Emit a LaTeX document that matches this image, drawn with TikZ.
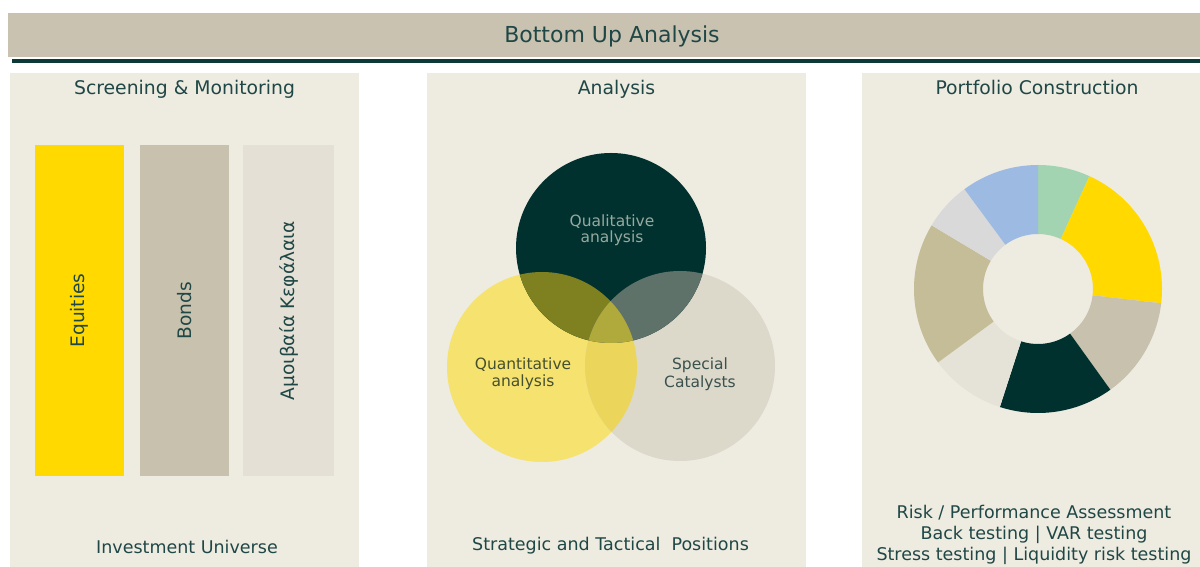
\documentclass[tikz,border=0pt]{standalone}
\usepackage{fontspec}
\setmainfont{DejaVu Sans}
\usetikzlibrary{calc}
\definecolor{panelbg}{HTML}{EEEBE1}
\definecolor{headbg}{HTML}{C9C2B0}
\definecolor{darkline}{HTML}{0D3937}
\definecolor{textc}{HTML}{1F4746}
\definecolor{eqy}{HTML}{FFD900}
\definecolor{bondc}{HTML}{C8C1AE}
\definecolor{fundc}{HTML}{E4E0D5}
\definecolor{vT}{HTML}{00312E}
\definecolor{vL}{HTML}{F6E26E}
\definecolor{vR}{HTML}{DCD8CA}
\definecolor{vTL}{HTML}{7F801F}
\definecolor{vTR}{HTML}{5F726A}
\definecolor{vLR}{HTML}{EBD65B}
\definecolor{vTLR}{HTML}{B0A93B}
\definecolor{qualc}{HTML}{98A89F}
\definecolor{quanc}{HTML}{46502F}
\definecolor{specc}{HTML}{3A514D}
\definecolor{dGreen}{HTML}{A3D4B1}
\definecolor{dYellow}{HTML}{FFD900}
\definecolor{dBeige}{HTML}{C8C1AE}
\definecolor{dDark}{HTML}{00312E}
\definecolor{dLight}{HTML}{E5E2D7}
\definecolor{dKhaki}{HTML}{C5BD97}
\definecolor{dGrey}{HTML}{D9D9D9}
\definecolor{dBlue}{HTML}{9DBBE2}
\begin{document}
\begin{tikzpicture}[x=1pt,y=1pt,
  txt/.style={text=textc, inner sep=0pt, anchor=base},
  headtxt/.style={txt, font=\fontsize{22}{26}\selectfont},
  titletxt/.style={txt, font=\fontsize{18.8}{22}\selectfont},
  foottxt/.style={txt, font=\fontsize{17.5}{21}\selectfont},
  bartxt/.style={text=textc, inner sep=0pt, rotate=90, font=\fontsize{18.6}{22}\selectfont},
  venntxt/.style={inner sep=0pt, anchor=base, font=\fontsize{15.5}{18}\selectfont},
  barbox/.style={inner sep=0pt, minimum width=89pt, minimum height=331pt}]
\useasboundingbox (0,0) rectangle (1200,567);
\fill[white] (0,0) rectangle (1200,567);
% header
\fill[headbg] (8,510) rectangle (1200,554);
\node[headtxt] (head) at (612,524.3) {Bottom Up Analysis};
\coordinate (lineA) at (12,506.2);
\coordinate (lineB) at (1200,506.2);
\draw[darkline, line width=3.5pt] (lineA) -- (lineB);
% panels
\fill[panelbg] (10,0) rectangle (359,494);
\fill[panelbg] (427,0) rectangle (806,494);
\fill[panelbg] (862,0) rectangle (1200,494);
\node[titletxt] (t1) at (184.5,472) {Screening \& Monitoring};
\node[titletxt] (t2) at (616.5,472) {Analysis};
\node[titletxt] (t3) at (1037,472) {Portfolio Construction};
% bars
\node[barbox, fill=eqy] (eq) at (79.5,256.5) {};
\node[barbox, fill=bondc] (bd) at (184.5,256.5) {};
\node[barbox, fill=fundc, minimum width=91pt] (fd) at (288.5,256.5) {};
\node[bartxt] (eqt) at (eq.center) {Equities};
\node[bartxt] (bdt) at (bd.center) {Bonds};
\node[bartxt] (fdt) at (fd.center) {Αμοιβαία Κεφάλαια};
\node[foottxt] (f1) at (187,13.5) {Investment Universe};
% venn
\coordinate (T) at (611,319);
\coordinate (L) at (542,200);
\coordinate (R) at (680,201);
\def\vr{95}
\fill[vL] (L) circle[radius=\vr];
\fill[vR] (R) circle[radius=\vr];
\fill[vT] (T) circle[radius=\vr];
\begin{scope}\clip (L) circle[radius=\vr]; \fill[vLR] (R) circle[radius=\vr];\end{scope}
\begin{scope}\clip (T) circle[radius=\vr]; \fill[vTL] (L) circle[radius=\vr];\end{scope}
\begin{scope}\clip (T) circle[radius=\vr]; \fill[vTR] (R) circle[radius=\vr];\end{scope}
\begin{scope}\clip (T) circle[radius=\vr]; \clip (L) circle[radius=\vr]; \fill[vTLR] (R) circle[radius=\vr];\end{scope}
\node[venntxt, text=qualc] (q1) at (612,340) {Qualitative};
\node[venntxt, text=qualc] (q2) at (612,324.5) {analysis};
\node[venntxt, text=quanc] (n1) at (523,197.4) {Quantitative};
\node[venntxt, text=quanc] (n2) at (523,180) {analysis};
\node[venntxt, text=specc] (s1) at (700,197) {Special};
\node[venntxt, text=specc] (s2) at (700,179) {Catalysts};
\node[foottxt] (f2) at (610.5,16) {Strategic and Tactical \ Positions};
% donut
\coordinate (D) at (1038,278);
\def\ro{124}
\def\ri{55}
\foreach \a/\b/\c in {65.5/90/dGreen, -6.6/65.5/dYellow, -54.3/-6.6/dBeige, -107.9/-54.3/dDark, -143.7/-107.9/dLight, -210.9/-143.7/dKhaki, -233.6/-210.9/dGrey, -270/-233.6/dBlue}{
  \fill[\c] ($(D)+(\a:\ro)$) arc[start angle=\a, end angle=\b, radius=\ro] -- ($(D)+(\b:\ri)$) arc[start angle=\b, end angle=\a, radius=\ri] -- cycle;
}
\node[foottxt] (r1) at (1034,48) {Risk / Performance Assessment};
\node[foottxt] (r2) at (1034,27) {Back testing | VAR testing};
\node[foottxt] (r3) at (1034,6) {Stress testing | Liquidity risk testing};
\end{tikzpicture}
\end{document}
